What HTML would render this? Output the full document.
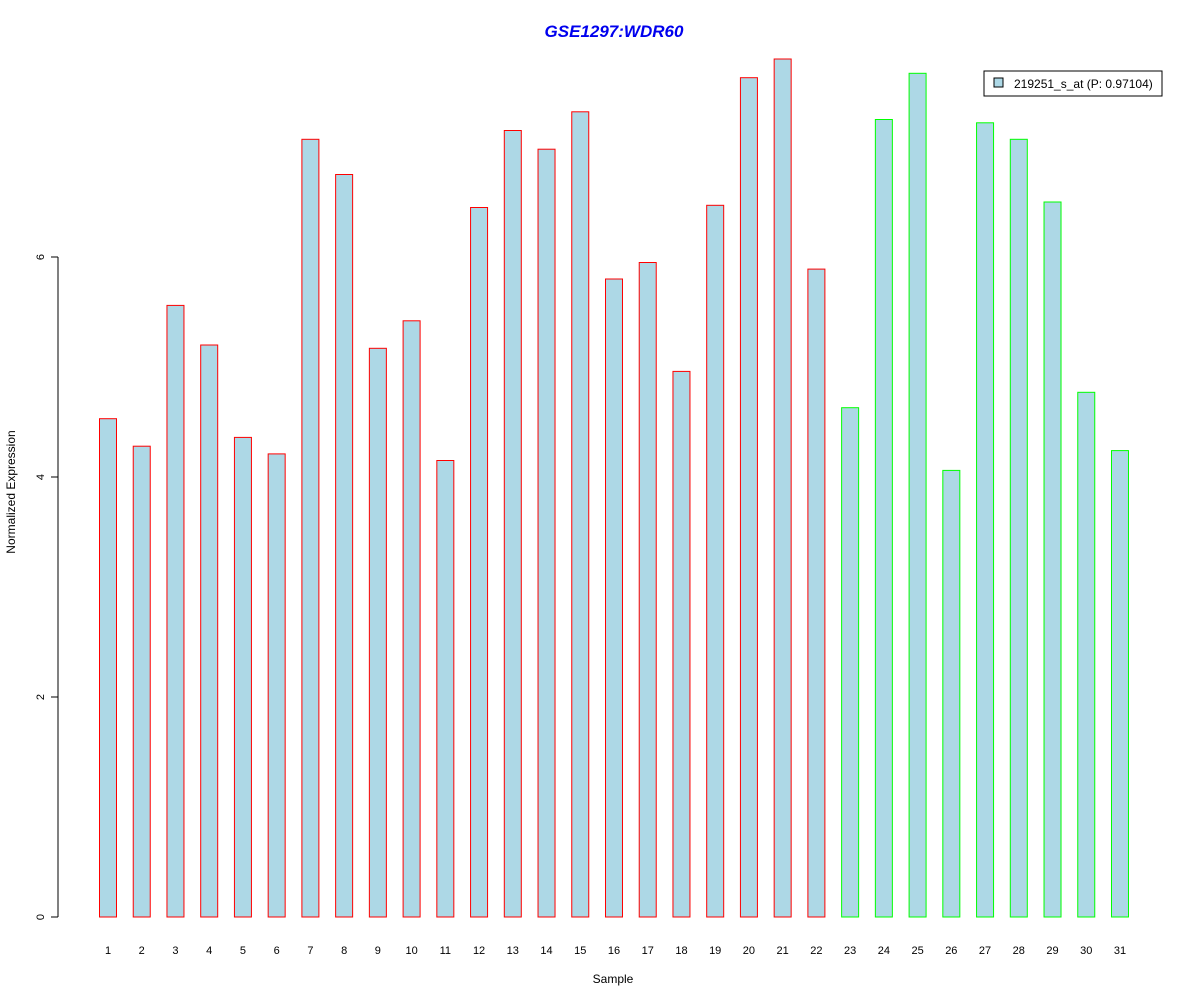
<!DOCTYPE html>
<html><head><meta charset="utf-8"><style>
body{margin:0;background:#fff;}
svg text{font-family:"Liberation Sans",Arial,sans-serif;}
</style></head><body>
<svg id="chart" width="1200" height="1000" xmlns="http://www.w3.org/2000/svg">
<rect width="1200" height="1000" fill="#fff"/>
<text x="614" y="37" text-anchor="middle" font-size="17" font-weight="bold" font-style="italic" fill="#0000ee">GSE1297:WDR60</text>
<text x="613" y="983" text-anchor="middle" font-size="12">Sample</text>
<text transform="translate(15,492) rotate(-90)" text-anchor="middle" font-size="12">Normalized Expression</text>
<g id="bars"></g>
<g id="yaxis"></g>
<g id="xlabels"></g>
<g>
<rect x="984" y="71" width="178" height="25" fill="#fff" stroke="#000"/>
<rect x="994" y="78" width="9" height="9" fill="#add8e6" stroke="#000"/>
<text x="1014" y="88" font-size="12">219251_s_at (P: 0.97104)</text>
</g>
</svg>
<script>
const categories = ["1","2","3","4","5","6","7","8","9","10","11","12","13","14","15","16","17","18","19","20","21","22","23","24","25","26","27","28","29","30","31"];
const values = [4.53,4.28,5.56,5.20,4.36,4.21,7.07,6.75,5.17,5.42,4.15,6.45,7.15,6.98,7.32,5.80,5.95,4.96,6.47,7.63,7.80,5.89,4.63,7.25,7.67,4.06,7.22,7.07,6.50,4.77,4.24];
const groups = ["a","a","a","a","a","a","a","a","a","a","a","a","a","a","a","a","a","a","a","a","a","a","b","b","b","b","b","b","b","b","b"];
const yTicks = [0,2,4,6];
const NS="http://www.w3.org/2000/svg";
const y = v => 917 - v*110;
const x = i => 108 + i*33.733;
const bars=document.getElementById('bars');
values.forEach((v,i)=>{
  const r=document.createElementNS(NS,'rect');
  r.setAttribute('x',x(i)-8.5);r.setAttribute('y',y(v));
  r.setAttribute('width',17);r.setAttribute('height',y(0)-y(v));
  r.setAttribute('fill','#add8e6');
  r.setAttribute('stroke',groups[i]==='a'?'#ff0000':'#00ff00');
  
  
  bars.appendChild(r);
  const t=document.createElementNS(NS,'text');
  t.setAttribute('x',x(i));t.setAttribute('y',954);
  t.setAttribute('text-anchor','middle');t.setAttribute('font-size','11');
  t.textContent=categories[i];
  
  
  document.getElementById('xlabels').appendChild(t);
});
const ya=document.getElementById('yaxis');
const ax=document.createElementNS(NS,'line');
ax.setAttribute('x1',58);ax.setAttribute('x2',58);
ax.setAttribute('y1',y(yTicks[0]));ax.setAttribute('y2',y(yTicks[yTicks.length-1]));
ax.setAttribute('stroke','#000');


ya.appendChild(ax);
yTicks.forEach(v=>{
  const l=document.createElementNS(NS,'line');
  l.setAttribute('x1',51);l.setAttribute('x2',58);l.setAttribute('y1',y(v));l.setAttribute('y2',y(v));
  l.setAttribute('stroke','#000');
  
  
  ya.appendChild(l);
  const t=document.createElementNS(NS,'text');
  t.setAttribute('transform','translate(44,'+y(v)+') rotate(-90)');
  t.setAttribute('text-anchor','middle');t.setAttribute('font-size','11');
  t.textContent=v;
  
  
  ya.appendChild(t);
});
</script>
</body></html>
